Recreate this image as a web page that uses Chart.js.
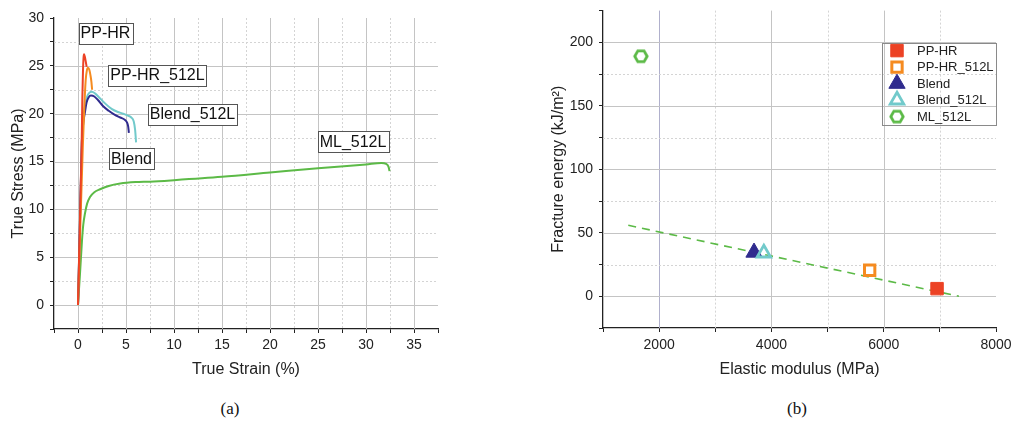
<!DOCTYPE html>
<html><head><meta charset="utf-8">
<script src="https://cdn.jsdelivr.net/npm/chart.js@4.4.0/dist/chart.umd.min.js"></script>
<style>
html,body{margin:0;padding:0;background:#fff;}
body{width:1012px;height:422px;position:relative;overflow:hidden;font-family:"Liberation Sans",Arial,sans-serif;}
#c1{position:absolute;left:0;top:0;}
#c2{position:absolute;left:520px;top:0;}
.cap{position:absolute;top:399px;font-family:"Liberation Serif","Times New Roman",serif;font-size:17px;color:#111;transform:translateX(-50%);}
</style></head><body>
<canvas id="c1" width="480" height="390"></canvas>
<canvas id="c2" width="492" height="390"></canvas>
<div class="cap" style="left:230px">(a)</div>
<div class="cap" style="left:797px">(b)</div>
<script>
// ---------- (a) True stress vs true strain ----------
const seriesNamesA = ['PP-HR', 'PP-HR_512L', 'Blend', 'Blend_512L', 'ML_512L'];
const strainPPHR = [0, 0.1, 0.2, 0.3, 0.38, 0.45, 0.52, 0.58, 0.63, 0.7, 0.8, 0.9];
const stressPPHR = [0, 4.4, 8.8, 13.2, 16.7, 21.5, 24.5, 25.9, 26.2, 26.0, 25.5, 24.9];
const strainPPHR512 = [0, 0.25, 0.5, 0.65, 0.8, 0.92, 1.04, 1.18, 1.3, 1.4, 1.47];
const stressPPHR512 = [0, 8.5, 16.5, 20.5, 23.5, 24.5, 24.8, 24.6, 24.0, 23.3, 22.5];
const strainBlend = [0, 0.2, 0.4, 0.55, 0.73, 0.9, 1.1, 1.35, 1.7, 2.1, 2.6, 3.2, 3.8, 4.4, 4.9, 5.1, 5.22, 5.3];
const stressBlend = [0, 8.5, 17, 19, 20.2, 21.2, 21.7, 21.9, 21.8, 21.4, 20.8, 20.3, 19.9, 19.6, 19.35, 19.1, 18.7, 18.0];
const strainBlend512 = [0, 0.2, 0.4, 0.55, 0.75, 0.95, 1.2, 1.45, 1.8, 2.3, 2.9, 3.5, 4.1, 4.7, 5.2, 5.55, 5.8, 5.95, 6.05];
const stressBlend512 = [0, 8.5, 17, 19.5, 20.9, 21.8, 22.2, 22.3, 22.1, 21.6, 21.0, 20.5, 20.2, 20.0, 19.8, 19.6, 19.2, 18.3, 17.0];
const strainML512 = [0, 0.1, 0.21, 0.42, 0.55, 0.73, 0.95, 1.25, 1.7, 2.3, 3.2, 4.4, 6, 7.5, 10, 15, 20, 25, 30, 31.6, 32.1, 32.35, 32.45];
const stressML512 = [0, 1.6, 3.3, 6.8, 8.4, 9.6, 10.6, 11.3, 11.8, 12.1, 12.45, 12.7, 12.85, 12.9, 13.05, 13.4, 13.85, 14.3, 14.7, 14.85, 14.75, 14.45, 14.0];
const xTickLabelsA = [0, 5, 10, 15, 20, 25, 30, 35];
const yTickLabelsA = [0, 5, 10, 15, 20, 25, 30];
// label anchors (data coordinates of the box centres)
const labelTextA = ['PP-HR', 'PP-HR_512L', 'Blend_512L', 'ML_512L', 'Blend'];
const labelXA = [2.86, 8.28, 11.93, 28.65, 5.57];
const labelYA = [28.43, 24.04, 19.96, 17.13, 15.3];

// ---------- (b) Fracture energy vs elastic modulus ----------
const seriesNamesB = ['PP-HR', 'PP-HR_512L', 'Blend', 'Blend_512L', 'ML_512L'];
const elasticModulus = [6950, 5750, 3690, 3865, 1675];
const fractureEnergy = [6.0, 20.5, 34.5, 34.0, 189];
const trendX = [1450, 7340];
const trendY = [55.9, 0];
const xTickLabelsB = [2000, 4000, 6000, 8000];
const yTickLabelsB = [0, 50, 100, 150, 200];

const colRed = '#ec4225', colOrange = '#f58b20', colBlue = '#2f2b8e', colCyan = '#72cacb', colGreen = '#5cba47';

Chart.defaults.font.family = "'Liberation Sans', Arial, sans-serif";
Chart.defaults.color = '#222';

function pts(xs, ys) { return xs.map((x, i) => ({x: x, y: ys[i]})); }
function has(list, v) { return list.some(t => Math.abs(t - v) < 1e-6); }
function fixScale(w, h) {
  return function (s) {
    if (w !== null) s.width = w;
    if (h !== null) s.height = h;
    s.paddingLeft = 0; s.paddingRight = 0; s.paddingTop = 0; s.paddingBottom = 0;
  };
}

const majorGrid = '#c4c4c4', minorGrid = '#d4d4d4';

// grid drawn from the scales' own ticks
function gridPlugin(xMajor, yMajor, xSkip, ySkip, xSpecial) {
  return {
    id: 'customGrid',
    beforeDatasetsDraw(chart) {
      const ctx = chart.ctx, a = chart.chartArea;
      const xs = chart.scales.x, ys = chart.scales.y;
      ctx.save();
      ctx.lineWidth = 1;
      xs.ticks.forEach(t => {
        const v = t.value;
        if (xSkip(v)) return;
        const px = Math.round(xs.getPixelForValue(v)) + 0.5;
        const major = xMajor(v);
        ctx.strokeStyle = major ? ((xSpecial && xSpecial(v)) || majorGrid) : minorGrid;
        ctx.setLineDash(major ? [] : [2, 2]);
        ctx.beginPath(); ctx.moveTo(px, a.top); ctx.lineTo(px, a.bottom); ctx.stroke();
      });
      ys.ticks.forEach(t => {
        const v = t.value;
        if (ySkip(v)) return;
        const py = Math.round(ys.getPixelForValue(v)) + 0.5;
        const major = yMajor(v);
        ctx.strokeStyle = major ? majorGrid : minorGrid;
        ctx.setLineDash(major ? [] : [2, 2]);
        ctx.beginPath(); ctx.moveTo(a.left, py); ctx.lineTo(a.right, py); ctx.stroke();
      });
      ctx.restore();
    }
  };
}

// ---------- chart (a) ----------
const labelPlugin = {
  id: 'boxLabels',
  afterDatasetsDraw(chart) {
    const ctx = chart.ctx, xs = chart.scales.x, ys = chart.scales.y;
    ctx.save();
    ctx.font = "16px 'Liberation Sans', Arial, sans-serif";
    ctx.textAlign = 'center';
    ctx.textBaseline = 'middle';
    labelTextA.forEach((t, i) => {
      const cx = xs.getPixelForValue(labelXA[i]);
      const cy = ys.getPixelForValue(labelYA[i]);
      const w = ctx.measureText(t).width + 4;
      const h = 21;
      ctx.fillStyle = '#fff';
      ctx.fillRect(Math.round(cx - w / 2) + 0.5, Math.round(cy - h / 2) + 0.5, Math.round(w), h);
      ctx.strokeStyle = '#555';
      ctx.lineWidth = 1;
      ctx.strokeRect(Math.round(cx - w / 2) + 0.5, Math.round(cy - h / 2) + 0.5, Math.round(w), h);
      ctx.fillStyle = '#111';
      ctx.fillText(t, cx, cy + 1);
    });
    ctx.restore();
  }
};

function lineDs(label, xs, ys, color) {
  return {label: label, data: pts(xs, ys), borderColor: color, backgroundColor: color,
    borderWidth: 2, pointRadius: 0, showLine: true, cubicInterpolationMode: 'monotone', fill: false};
}

const tickGrid = {drawOnChartArea: false, drawTicks: true, tickLength: 4, tickColor: '#222', tickWidth: 1, color: '#222'};

new Chart(document.getElementById('c1'), {
  type: 'scatter',
  data: {
    datasets: [
      lineDs(seriesNamesA[0], strainPPHR, stressPPHR, colRed),
      lineDs(seriesNamesA[1], strainPPHR512, stressPPHR512, colOrange),
      lineDs(seriesNamesA[2], strainBlend, stressBlend, colBlue),
      lineDs(seriesNamesA[3], strainBlend512, stressBlend512, colCyan),
      lineDs(seriesNamesA[4], strainML512, stressML512, colGreen)
    ]
  },
  options: {
    responsive: false, animation: false, devicePixelRatio: 1,
    layout: {padding: {left: 0, top: 18, right: 42, bottom: 11}},
    plugins: {legend: {display: false}, tooltip: {enabled: false}},
    scales: {
      x: {
        type: 'linear', min: -2.5, max: 37.5,
        afterFit: fixScale(null, 50),
        ticks: {stepSize: 2.5, autoSkip: false, maxRotation: 0, padding: 4,
          font: {size: 14}, color: '#222',
          callback: v => has(xTickLabelsA, v) ? String(v) : ''},
        grid: tickGrid,
        border: {display: true, color: '#222', width: 1.3},
        title: {display: true, text: 'True Strain (%)', font: {size: 16}, color: '#222', padding: {top: 0, bottom: 0}}
      },
      y: {
        type: 'linear', min: -2.5, max: 30,
        afterFit: fixScale(54, null),
        ticks: {stepSize: 2.5, autoSkip: false, padding: 6, font: {size: 14}, color: '#222',
          callback: v => has(yTickLabelsA, v) ? String(v) : ''},
        grid: tickGrid,
        border: {display: true, color: '#222', width: 1.3},
        title: {display: true, text: 'True Stress (MPa)', font: {size: 16}, color: '#222', padding: {top: 9, bottom: 0}}
      }
    }
  },
  plugins: [
    gridPlugin(v => Math.abs(v % 5) < 1e-6, v => Math.abs(v % 5) < 1e-6,
               v => v <= -2.5 + 1e-6 || v >= 37.5 - 1e-6, v => v <= -2.5 + 1e-6 || v >= 30 - 1e-6, null),
    labelPlugin
  ]
});

// ---------- chart (b) ----------
function hexCanvas(color) {
  const c = document.createElement('canvas');
  c.width = 20; c.height = 20;
  const g = c.getContext('2d');
  const R = 6.2;
  g.beginPath();
  for (let k = 0; k < 6; k++) {
    const a = Math.PI / 3 * k;
    const px = 10 + R * Math.cos(a), py = 10 + R * Math.sin(a);
    if (k === 0) g.moveTo(px, py); else g.lineTo(px, py);
  }
  g.closePath();
  g.fillStyle = '#fff';
  g.fill();
  g.lineWidth = 2.8;
  g.strokeStyle = color;
  g.stroke();
  return c;
}
const hexImg = hexCanvas(colGreen);

const markerStyles = [
  {pointStyle: 'rect', pointRadius: 8.8, pointBorderWidth: 1, pointBackgroundColor: colRed, pointBorderColor: colRed},
  {pointStyle: 'rect', pointRadius: 7.3, pointBorderWidth: 3, pointBackgroundColor: '#fff', pointBorderColor: colOrange},
  {pointStyle: 'triangle', pointRadius: 9.4, pointBorderWidth: 1, pointBackgroundColor: colBlue, pointBorderColor: colBlue},
  {pointStyle: 'triangle', pointRadius: 7.8, pointBorderWidth: 2.8, pointBackgroundColor: 'rgba(255,255,255,0)', pointBorderColor: colCyan},
  {pointStyle: hexImg, pointRadius: 7, pointBorderWidth: 0, pointBackgroundColor: colGreen, pointBorderColor: colGreen}
];
const drawOrder = [0, 0, 2, 1, 0];

const pointDatasets = seriesNamesB.map((name, i) => Object.assign({
  label: name,
  data: [{x: elasticModulus[i], y: fractureEnergy[i]}],
  showLine: false,
  order: drawOrder[i]
}, markerStyles[i]));

const trendDataset = {
  label: 'fit', data: pts(trendX, trendY), showLine: true, pointRadius: 0,
  borderColor: colGreen, borderWidth: 1.6, borderDash: [8, 6], order: 5, fill: false
};

const legendPlugin = {
  id: 'boxLegend',
  afterDraw(chart) {
    const ctx = chart.ctx, area = chart.chartArea;
    const right = area.right, top = area.top + 32;
    const w = 114, h = 82, left = right - w;
    ctx.save();
    ctx.strokeStyle = '#8a8a8a';
    ctx.lineWidth = 1;
    ctx.strokeRect(Math.round(left) + 0.5, Math.round(top) + 0.5, w, h);
    ctx.font = "13px 'Liberation Sans', Arial, sans-serif";
    ctx.textAlign = 'left';
    ctx.textBaseline = 'middle';
    seriesNamesB.forEach((name, i) => {
      const cy = top + 8 + i * 16.5;
      const m = markerStyles[i];
      ctx.save();
      ctx.fillStyle = m.pointBackgroundColor;
      ctx.strokeStyle = m.pointBorderColor;
      ctx.lineWidth = m.pointBorderWidth;
      Chart.helpers.drawPoint(ctx, {pointStyle: m.pointStyle, radius: m.pointRadius, borderWidth: m.pointBorderWidth, rotation: 0}, left + 15, cy);
      ctx.restore();
      ctx.fillStyle = '#222';
      ctx.fillText(name, left + 35, cy + 0.5);
    });
    ctx.restore();
  }
};

new Chart(document.getElementById('c2'), {
  type: 'scatter',
  data: {datasets: pointDatasets.concat([trendDataset])},
  options: {
    responsive: false, animation: false, devicePixelRatio: 1,
    layout: {padding: {left: 0, top: 10, right: 16, bottom: 11}},
    plugins: {legend: {display: false}, tooltip: {enabled: false}},
    scales: {
      x: {
        type: 'linear', min: 1000, max: 8000,
        afterFit: fixScale(null, 51),
        ticks: {stepSize: 1000, autoSkip: false, maxRotation: 0, padding: 5, font: {size: 14}, color: '#222',
          callback: v => has(xTickLabelsB, v) ? String(v) : ''},
        grid: tickGrid,
        border: {display: true, color: '#222', width: 1.3},
        title: {display: true, text: 'Elastic modulus (MPa)', font: {size: 16}, color: '#222', padding: {top: 0, bottom: 0}}
      },
      y: {
        type: 'linear', min: -25, max: 225,
        afterFit: fixScale(83, null),
        ticks: {stepSize: 25, autoSkip: false, padding: 6, font: {size: 14}, color: '#222',
          callback: v => has(yTickLabelsB, v) ? String(v) : ''},
        grid: tickGrid,
        border: {display: true, color: '#222', width: 1.3},
        title: {display: true, text: 'Fracture energy (kJ/m²)', font: {size: 16}, color: '#222', padding: {top: 29, bottom: 0}}
      }
    }
  },
  plugins: [
    gridPlugin(v => v % 2000 === 0, v => Math.abs(v % 50) < 1e-6,
               v => v <= 1000 || v >= 8000, v => v <= -25 || v >= 225,
               v => (v === 2000 ? '#b0b0cc' : null)),
    legendPlugin
  ]
});
</script>
</body></html>
